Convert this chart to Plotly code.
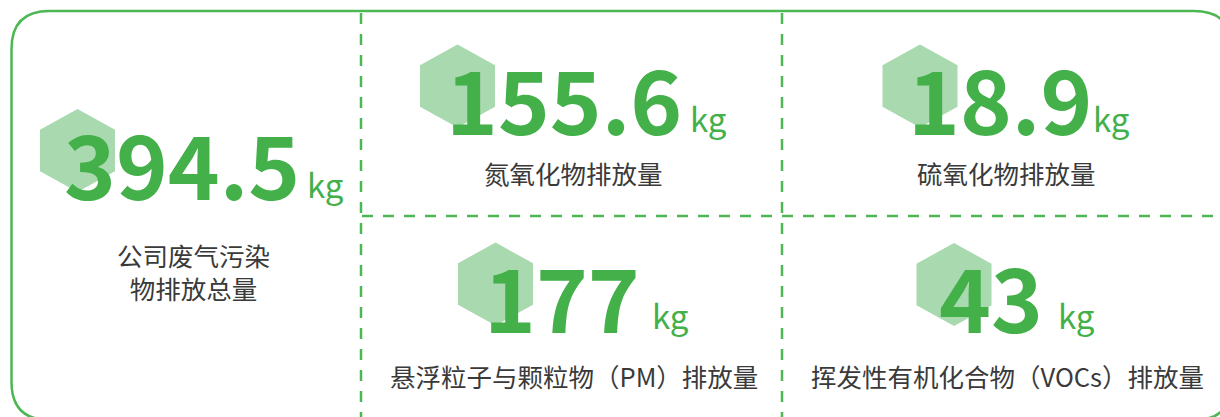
import plotly.graph_objects as go

# ---- data ----
values = [394.5, 155.6, 18.9, 177, 43]
unit = "kg"
labels = [
    "公司废气污染<br>物排放总量",
    "氮氧化物排放量",
    "硫氧化物排放量",
    "悬浮粒子与颗粒物（PM）排放量",
    "挥发性有机化合物（VOCs）排放量",
]

# ---- layout (pixel positions) ----
W, H = 1220, 417
hex_cx = [77.5, 457.5, 920, 495.5, 954]
hex_cy = [150.5, 86, 86, 284, 284.5]
hex_hw = 37.5
hex_ry = 41.5
num_x = [62, 444, 906, 482, 937]
num_base = [200, 135, 135, 333, 333]
kg_x = [305, 688, 1091, 650, 1056]
kg_base = [198, 132, 132, 329, 329]
lab_x = [193, 573, 1006, 574, 1007]
lab_y = [271, 172, 172, 375, 375]

GREEN = "#43B04A"
LINE_GREEN = "#4CB853"
HEX = "#A9D9AF"
TXT = "#3A3A3A"
NUM_SIZE = 88
KG_SIZE = 33
LAB_SIZE = 25.5
FONT = "Noto Sans CJK SC"

fig = go.Figure()

for cx, cy in zip(hex_cx, hex_cy):
    xs = [cx, cx + hex_hw, cx + hex_hw, cx, cx - hex_hw, cx - hex_hw, cx]
    ys = [cy - hex_ry, cy - hex_ry / 2, cy + hex_ry / 2, cy + hex_ry,
          cy + hex_ry / 2, cy - hex_ry / 2, cy - hex_ry]
    fig.add_trace(go.Scatter(x=xs, y=ys, mode="lines", fill="toself",
                             fillcolor=HEX, line=dict(width=0, color=HEX),
                             hoverinfo="skip", showlegend=False))

# outer rounded rectangle
x0, y0, x1, y1, r = 11.5, 11, 1232, 420, 38
path = (f"M {x0+r},{y0} L {x1-r},{y0} Q {x1},{y0} {x1},{y0+r} "
        f"L {x1},{y1-r} Q {x1},{y1} {x1-r},{y1} L {x0+r},{y1} "
        f"Q {x0},{y1} {x0},{y1-r} L {x0},{y0+r} Q {x0},{y0} {x0+r},{y0} Z")
fig.add_shape(type="path", path=path, xref="x", yref="y",
              line=dict(color=LINE_GREEN, width=2.5), layer="below")

dash = "11px,10px"
for vx in (361, 782):
    fig.add_shape(type="line", x0=vx, x1=vx, y0=13, y1=420, xref="x", yref="y",
                  line=dict(color=LINE_GREEN, width=2.5, dash=dash), layer="below")
fig.add_shape(type="line", x0=362, x1=1232, y0=216, y1=216, xref="x", yref="y",
              line=dict(color=LINE_GREEN, width=2.5, dash=dash), layer="below")

ASC, DESC = 1.16, 0.288
off = (ASC - DESC) / 2

for i, v in enumerate(values):
    fig.add_annotation(x=num_x[i], y=num_base[i] - off * NUM_SIZE, xref="x", yref="y",
                       text=f"{v:g}", showarrow=False, xanchor="left", yanchor="middle",
                       font=dict(family=FONT, size=NUM_SIZE, color=GREEN, weight="bold"))
    fig.add_annotation(x=kg_x[i], y=kg_base[i] - off * KG_SIZE, xref="x", yref="y",
                       text=unit, showarrow=False, xanchor="left", yanchor="middle",
                       font=dict(family=FONT, size=KG_SIZE, color=GREEN))
    fig.add_annotation(x=lab_x[i], y=lab_y[i], xref="x", yref="y",
                       text=labels[i], showarrow=False, xanchor="center", yanchor="middle",
                       align="center",
                       font=dict(family=FONT, size=LAB_SIZE, color=TXT))

fig.update_layout(
    width=W, height=H, margin=dict(l=0, r=0, t=0, b=0),
    paper_bgcolor="white", plot_bgcolor="white",
    xaxis=dict(range=[0, W], visible=False, fixedrange=True),
    yaxis=dict(range=[H, 0], visible=False, fixedrange=True),
    showlegend=False,
)

fig.write_html("out.html", config={"displayModeBar": False},
               post_script="document.body.style.margin='0';document.body.style.overflow='hidden';")
